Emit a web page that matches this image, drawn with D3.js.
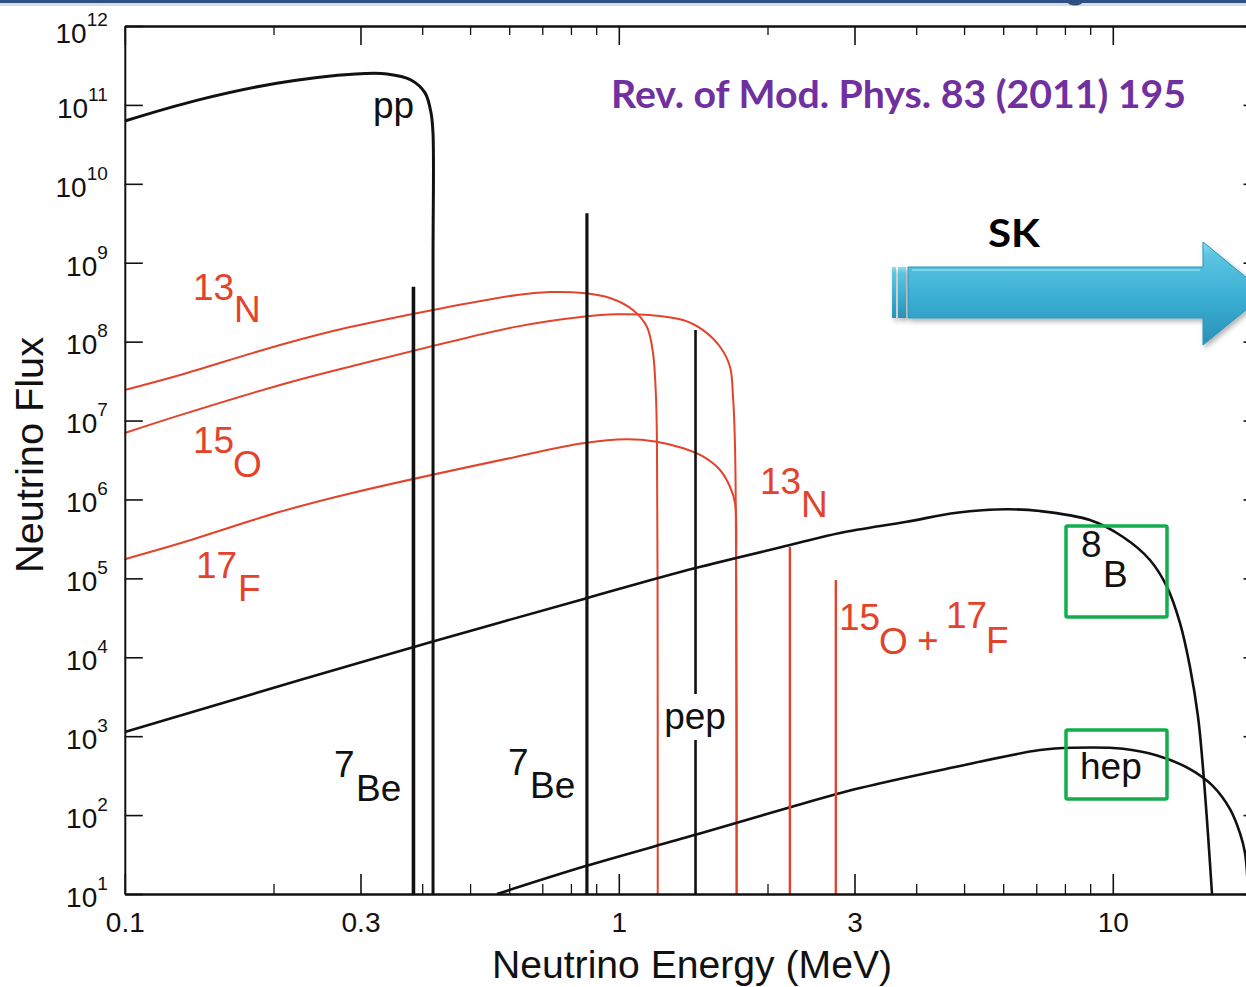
<!DOCTYPE html>
<html><head><meta charset="utf-8">
<script src="https://cdn.jsdelivr.net/npm/d3@7"></script>
<style>html,body{margin:0;padding:0;background:#fff;} svg{display:block;}</style>
</head><body>
<svg id="chart" width="1246" height="987"></svg>
<script>
// ---------- data ----------
const xMajorTicks = [0.1, 0.3, 1, 3, 10];
const xTickLabels = ["0.1", "0.3", "1", "3", "10"];
const xMinorTicks = [0.2, 0.4, 0.5, 0.6, 0.7, 0.8, 0.9, 2, 4, 5, 6, 7, 8, 9, 20];
const yExponents = [1, 2, 3, 4, 5, 6, 7, 8, 9, 10, 11, 12];

// continuum spectra: energy (MeV) and flux
const ppE  = [0.1, 0.1404, 0.203, 0.2934, 0.3395, 0.3796, 0.4053, 0.4168, 0.4206, 0.4207, 0.4207];
const ppF  = [6.25e10, 1.15e11, 1.88e11, 2.47e11, 2.47e11, 2.07e11, 1.42e11, 7.9e10, 4.4e10, 1e9, 10];

const n13E = [0.1, 0.1294, 0.2062, 0.2857, 0.6223, 0.7256, 0.8462, 0.9598, 1.0684, 1.1404, 1.1727, 1.1893, 1.1948, 1.198, 1.199];
const n13F = [2.44e7, 3.78e7, 9.06e7, 1.53e8, 3.90e8, 4.25e8, 4.13e8, 3.57e8, 2.51e8, 1.53e8, 7.18e7, 1.99e7, 4.61e6, 1e5, 10];

const o15E = [0.1, 0.1294, 0.2062, 0.2857, 0.6214, 0.8462, 0.9902, 1.1565, 1.349, 1.481, 1.603, 1.679, 1.703, 1.719, 1.728, 1.732];
const o15F = [6.95e6, 1.17e7, 2.82e7, 4.81e7, 1.55e8, 2.07e8, 2.22e8, 2.17e8, 1.88e8, 1.40e8, 8.61e7, 4.81e7, 2.00e7, 4.66e6, 1e5, 10];

const f17E = [0.1, 0.1294, 0.2062, 0.2857, 0.6214, 0.8462, 1.037, 1.193, 1.351, 1.483, 1.603, 1.679, 1.719, 1.728, 1.732];
const f17F = [1.75e5, 2.78e5, 6.98e5, 1.19e6, 3.48e6, 5.14e6, 5.78e6, 5.38e6, 4.45e6, 3.48e6, 2.36e6, 1.45e6, 9.0e5, 1e5, 10];

const b8E  = [0.1, 0.2263, 0.4187, 0.857, 1.423, 2.222, 2.804, 3.826, 4.83, 6.10, 7.12, 8.99, 10.49, 11.89, 12.88, 13.68, 14.33, 14.88, 15.22, 15.58, 15.88];
const b8F  = [1.13e3, 5.14e3, 1.57e4, 5.57e4, 1.34e5, 2.64e5, 3.75e5, 5.21e5, 6.78e5, 7.50e5, 7.13e5, 5.48e5, 3.34e5, 1.71e5, 7.76e4, 2.71e4, 7.52e3, 1.75e3, 406, 59, 10];

const hepE = [0.567, 0.857, 1.423, 2.214, 3.078, 4.68, 7.12, 8.31, 10.49, 12.29, 14.33, 15.95, 17.27, 18.09, 18.52, 18.8];
const hepF = [10, 22.6, 55.8, 125, 220, 394, 667, 713, 692, 568, 383, 233, 119, 59, 33, 10];

// line sources (black) and CNO lines (red)
const blackLineE = [0.384, 0.862, 1.43];
const blackLineF = [4.96e8, 4.23e9, 1.40e8];
const blackLineW = [3.6, 3.2, 2.6];
const redLineE = [2.22, 2.75];
const redLineF = [2.5e5, 9.5e4];

// ---------- setup ----------
const RED = "#e4432b", BLACK = "#111";
const FONT = "'Liberation Sans', Arial, Helvetica, sans-serif";
const svg = d3.select("#chart");

const x = d3.scaleLog().domain([0.1, 20]).range([124.8, 1261.5]);
const y = d3.scaleLog().domain([10, 1e12]).range([894, 26]);

const defs = svg.append("defs");
defs.append("clipPath").attr("id", "plotclip").append("rect")
  .attr("x", x(0.1)).attr("y", y(1e12))
  .attr("width", x(20) - x(0.1)).attr("height", y(10) - y(1e12));

const grad = defs.append("linearGradient").attr("id", "arrowGrad")
  .attr("x1", 0).attr("y1", 0).attr("x2", 0).attr("y2", 1);
[[0, "#8fdcef"], [0.12, "#5cc5e2"], [0.55, "#3aaed3"], [1, "#2a90b6"]]
  .forEach(([o, c]) => grad.append("stop").attr("offset", o).attr("stop-color", c));
const flt = defs.append("filter").attr("id", "shadow").attr("x", "-10%").attr("y", "-20%").attr("width", "130%").attr("height", "160%");
flt.append("feDropShadow").attr("dx", 2).attr("dy", 3).attr("stdDeviation", 2.5)
  .attr("flood-color", "#000").attr("flood-opacity", 0.3);

// top slide band
svg.append("rect").attr("x", 0).attr("y", 0).attr("width", 1246).attr("height", 3).attr("fill", "#2e5182");
svg.append("rect").attr("x", 0).attr("y", 3).attr("width", 1246).attr("height", 3).attr("fill", "#a9bad2").attr("opacity", 0.5);
svg.append("ellipse").attr("cx", 1075).attr("cy", 1).attr("rx", 8).attr("ry", 4.5).attr("fill", "#2e5182");

// ---------- curves ----------
const plot = svg.append("g").attr("clip-path", "url(#plotclip)");
const line = d3.line().x(d => x(d[0])).y(d => y(d[1])).curve(d3.curveCatmullRom.alpha(0.5));
const zip = (E, F) => E.map((e, i) => [e, F[i]]);

const curves = [
  {E: n13E, F: n13F, c: RED, w: 2},
  {E: o15E, F: o15F, c: RED, w: 2},
  {E: f17E, F: f17F, c: RED, w: 2},
  {E: ppE,  F: ppF,  c: BLACK, w: 3},
  {E: b8E,  F: b8F,  c: BLACK, w: 2.6},
  {E: hepE, F: hepF, c: BLACK, w: 2.6},
];
plot.selectAll("path.curve").data(curves).join("path")
  .attr("class", "curve")
  .attr("d", d => line(zip(d.E, d.F)))
  .attr("fill", "none").attr("stroke", d => d.c).attr("stroke-width", d => d.w)
  .attr("stroke-linejoin", "round");

plot.selectAll("line.red").data(redLineE).join("line")
  .attr("class", "red")
  .attr("x1", d => x(d)).attr("x2", d => x(d))
  .attr("y1", (d, i) => y(redLineF[i])).attr("y2", y(10))
  .attr("stroke", RED).attr("stroke-width", 2.4);

plot.selectAll("line.blk").data(blackLineE).join("line")
  .attr("class", "blk")
  .attr("x1", d => x(d)).attr("x2", d => x(d))
  .attr("y1", (d, i) => y(blackLineF[i])).attr("y2", y(10))
  .attr("stroke", BLACK).attr("stroke-width", (d, i) => blackLineW[i]);

// gap in the pep line behind its label
plot.append("rect").attr("x", x(1.43) - 5).attr("y", 694).attr("width", 10).attr("height", 46).attr("fill", "#fff");

// ---------- axes ----------
const axG = svg.append("g").attr("font-family", FONT);
function styleAxis(g, major) {
  g.select(".domain").attr("stroke", "#111").attr("stroke-width", 2);
  g.selectAll(".tick line").attr("stroke", "#111").attr("stroke-width", major ? 1.6 : 1.3);
}
// bottom
axG.append("g").attr("transform", `translate(0,${y(10)})`)
  .call(d3.axisBottom(x).tickValues(xMinorTicks).tickSize(-10).tickSizeOuter(0).tickFormat(""))
  .call(g => styleAxis(g, false));
axG.append("g").attr("transform", `translate(0,${y(10)})`)
  .call(d3.axisBottom(x).tickValues(xMajorTicks).tickSize(-20).tickSizeOuter(0).tickPadding(18)
    .tickFormat((d, i) => xTickLabels[i]))
  .call(g => styleAxis(g, true))
  .call(g => g.selectAll("text").attr("font-size", 28).attr("fill", "#111").attr("font-family", FONT));
// top
axG.append("g").attr("transform", `translate(0,${y(1e12)})`)
  .call(d3.axisTop(x).tickValues(xMinorTicks).tickSize(-9).tickSizeOuter(0).tickFormat(""))
  .call(g => styleAxis(g, false));
axG.append("g").attr("transform", `translate(0,${y(1e12)})`)
  .call(d3.axisTop(x).tickValues(xMajorTicks).tickSize(-19).tickSizeOuter(0).tickFormat(""))
  .call(g => styleAxis(g, true));
// left
const yTickVals = yExponents.map(e => Math.pow(10, e));
axG.append("g").attr("transform", `translate(${x(0.1)},0)`)
  .call(d3.axisLeft(y).tickValues(yTickVals).tickSize(-18).tickSizeOuter(0).tickPadding(17).tickFormat(""))
  .call(g => styleAxis(g, true))
  .call(g => g.selectAll(".tick text").each(function(d, i) {
    const t = d3.select(this).text(null)
      .attr("font-size", 28).attr("fill", "#111").attr("font-family", FONT)
      .attr("dy", i === yExponents.length - 1 ? "0.6em" : "0.44em");
    t.append("tspan").text("10");
    t.append("tspan").attr("font-size", 19).attr("dy", -17).text(yExponents[i]);
  }));
// right
axG.append("g").attr("transform", `translate(${x(20)},0)`)
  .call(d3.axisRight(y).tickValues(yTickVals).tickSize(-18).tickSizeOuter(0).tickFormat(""))
  .call(g => styleAxis(g, true));

// axis titles
svg.append("text").attr("x", 692).attr("y", 978).attr("text-anchor", "middle")
  .attr("font-family", FONT).attr("font-size", 38).attr("fill", "#111")
  .attr("textLength", 400).attr("lengthAdjust", "spacingAndGlyphs")
  .text("Neutrino Energy (MeV)");
svg.append("text").attr("transform", "translate(43,455) rotate(-90)").attr("text-anchor", "middle")
  .attr("font-family", FONT).attr("font-size", 38).attr("fill", "#111")
  .attr("textLength", 236).attr("lengthAdjust", "spacingAndGlyphs")
  .text("Neutrino Flux");

// ---------- annotations ----------
const ann = svg.append("g").attr("font-family", FONT).attr("font-size", 37);
function lab(txt, px, py, color, anchor) {
  ann.append("text").attr("x", px).attr("y", py).attr("fill", color)
    .attr("text-anchor", anchor || "start").text(txt);
}
lab("pp", 373, 118, BLACK);
lab("13", 193, 300, RED); lab("N", 234, 322, RED);
lab("15", 193, 453, RED); lab("O", 233, 477, RED);
lab("17", 196, 578, RED); lab("F", 238, 601, RED);
lab("13", 760, 494, RED); lab("N", 801, 517, RED);
lab("15", 839, 630, RED); lab("O", 879, 654, RED); lab("+", 917, 653, RED);
lab("17", 946, 628, RED); lab("F", 986, 653, RED);
lab("7", 334, 777, BLACK); lab("Be", 356, 801, BLACK);
lab("7", 508, 775, BLACK); lab("Be", 530, 798, BLACK);
lab("pep", 695, 729, BLACK, "middle");
lab("8", 1081, 557, BLACK); lab("B", 1103, 587, BLACK);
lab("hep", 1080, 779, BLACK);

// green boxes
[[1066, 526, 101, 91], [1066, 730, 101, 69]].forEach(([bx, by, bw, bh]) =>
  svg.append("rect").attr("x", bx).attr("y", by).attr("width", bw).attr("height", bh)
    .attr("fill", "none").attr("stroke", "#14ad4e").attr("stroke-width", 3.5).attr("rx", 1.5));

// reference text
svg.append("text").attr("x", 611).attr("y", 108)
  .attr("font-family", "Lato, 'Open Sans', sans-serif").attr("font-weight", "bold")
  .attr("font-size", 38).attr("fill", "#7030a0")
  .attr("textLength", 575).attr("lengthAdjust", "spacingAndGlyphs")
  .text("Rev. of Mod. Phys. 83 (2011) 195");

// SK arrow
svg.append("text").attr("x", 988).attr("y", 247)
  .attr("font-family", "Lato, 'Open Sans', sans-serif").attr("font-weight", "bold")
  .attr("font-size", 38).attr("fill", "#000")
  .attr("textLength", 52).attr("lengthAdjust", "spacingAndGlyphs").text("SK");
const arr = svg.append("g").attr("filter", "url(#shadow)");
arr.append("rect").attr("x", 892).attr("y", 267).attr("width", 4).attr("height", 51).attr("fill", "url(#arrowGrad)");
arr.append("rect").attr("x", 898).attr("y", 267).attr("width", 8).attr("height", 51).attr("fill", "url(#arrowGrad)");
arr.append("path")
  .attr("d", "M908,267 L1203,267 L1203,242 L1266,293.5 L1203,345 L1203,318 L908,318 Z")
  .attr("fill", "url(#arrowGrad)").attr("stroke", "#2b95ba").attr("stroke-width", 1);
arr.append("path")
  .attr("d", "M912,270 L1200,270")
  .attr("stroke", "#a8e6f5").attr("stroke-width", 1.5).attr("opacity", 0.7);
</script>
</body></html>
